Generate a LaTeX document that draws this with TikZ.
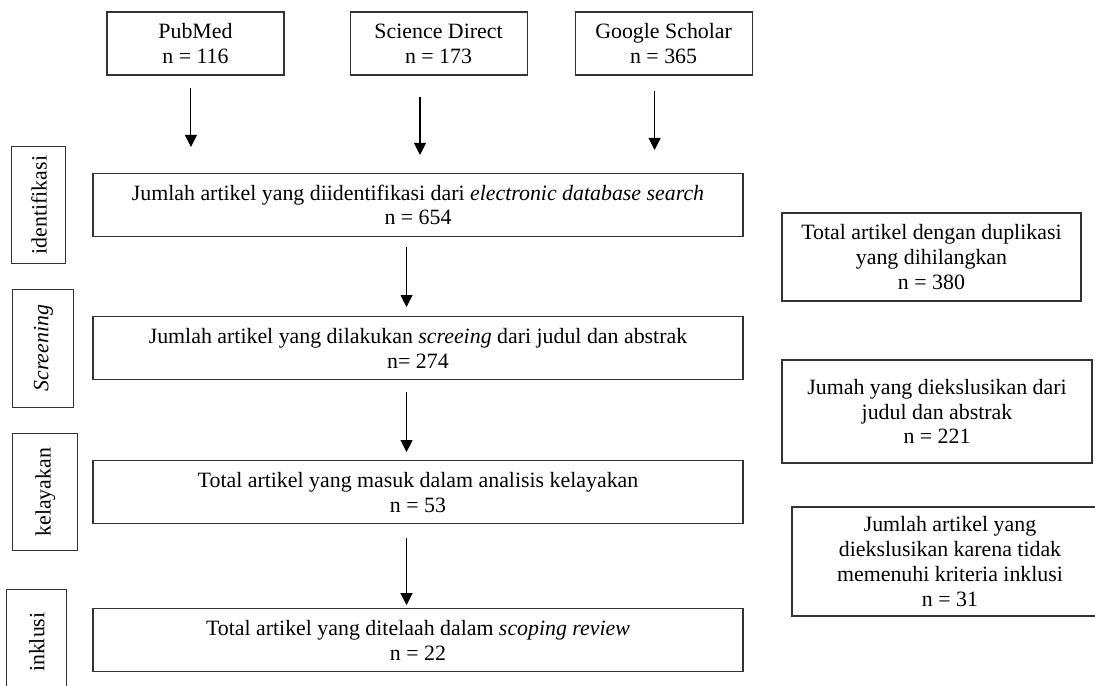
\documentclass[tikz,border=0pt]{standalone}
\usepackage{fontspec}
\setmainfont{Liberation Serif}
\usepackage{graphicx}
\usetikzlibrary{arrows.meta,positioning}

\begin{document}
\begin{tikzpicture}[>={Triangle[length=9pt,width=9pt]},auto,node distance=60pt,
    every node/.style={font=\fontsize{16.4}{18.6}\selectfont},
    box/.style={draw=black!80,line width=0.8pt,align=center,inner sep=4pt},
    mainbox/.style={box,minimum width=487.5pt,minimum height=47.25pt},
    srcbox/.style={box,minimum width=132.75pt,minimum height=47.25pt},
    phase/.style={box,inner sep=0pt}]

            \useasboundingbox (0,0) rectangle (821.25pt,513.75pt);

            % alur utama
            \node[mainbox] (m1) at (313.5pt,360pt) {Jumlah artikel yang diidentifikasi dari \textit{electronic database search}\\n = 654};

            \node[mainbox] (m2) [below=59.25pt of m1] {Jumlah artikel yang dilakukan \textit{screeing} dari judul dan abstrak\\n= 274};

            \node[mainbox] (m3) [below=of m2] {Total artikel yang masuk dalam analisis kelayakan\\n = 53};

            \node[mainbox] (m4) [below=63pt of m3] {Total artikel yang ditelaah dalam \textit{scoping review}\\n = 22};

            % sumber data
            \node[srcbox] (pubmed) at (146.6pt,481.1pt) {PubMed\\n = 116};

            \node[srcbox] (scidir) [right=48.75pt of pubmed] {Science Direct\\n = 173};

            \node[srcbox] (scholar) [right=35.25pt of scidir] {Google Scholar\\n = 365};

            % tahap
            \node[phase,minimum width=40.5pt,minimum height=87.75pt] (idf) [left=19.5pt of m1] {\rotatebox{90}{identifikasi}};

            \node[phase,minimum width=45.75pt,minimum height=88.5pt] (scr) [left=13.5pt of m2] {\rotatebox{90}{\textit{Screening}}};

            \node[phase,minimum width=48.75pt,minimum height=87.75pt] (kel) [left=10.5pt of m3] {\rotatebox{90}{kelayakan}};

            \node[phase,minimum width=45pt,minimum height=79.5pt] (ink) [left=18.75pt of m4,yshift=-1.5pt] {\rotatebox{90}{inklusi}};

            % artikel yang dikeluarkan
            \node[box,minimum width=224.25pt,minimum height=66pt] (dup) at (698.6pt,321pt) {Total artikel dengan duplikasi\\yang dihilangkan\\n = 380};

            \node[box,minimum width=232.5pt,minimum height=77.25pt] (exc1) at (702.75pt,205.1pt) {Jumah yang diekslusikan dari\\judul dan abstrak\\n = 221};

            \node[box,minimum width=237pt,minimum height=81.75pt] (exc2) at (712.5pt,92.6pt) {Jumlah artikel yang\\diekslusikan karena tidak\\memenuhi kriteria inklusi\\n = 31};

            \path[->,line width=0.8pt] ([xshift=-3.4pt]pubmed.south) edge[shorten <=9pt,shorten >=19.5pt] ([xshift=-3.4pt]pubmed.south |- m1.north)

                      ([xshift=-13.9pt]scidir.south) edge[shorten <=15.75pt,shorten >=13.5pt] ([xshift=-13.9pt]scidir.south |- m1.north)

                      ([xshift=-6.75pt]scholar.south) edge[shorten <=11.25pt,shorten >=17.25pt] ([xshift=-6.75pt]scholar.south |- m1.north)

                      ([xshift=-8.6pt]m1.south) edge[shorten <=7.5pt,shorten >=6.75pt] ([xshift=-8.6pt]m2.north)

                      ([xshift=-8.6pt]m2.south) edge[shorten <=9pt,shorten >=6pt] ([xshift=-8.6pt]m3.north)

                      ([xshift=-8.6pt]m3.south) edge[shorten <=10.5pt,shorten >=2.25pt] ([xshift=-8.6pt]m4.north);

        \end{tikzpicture}
\end{document}
